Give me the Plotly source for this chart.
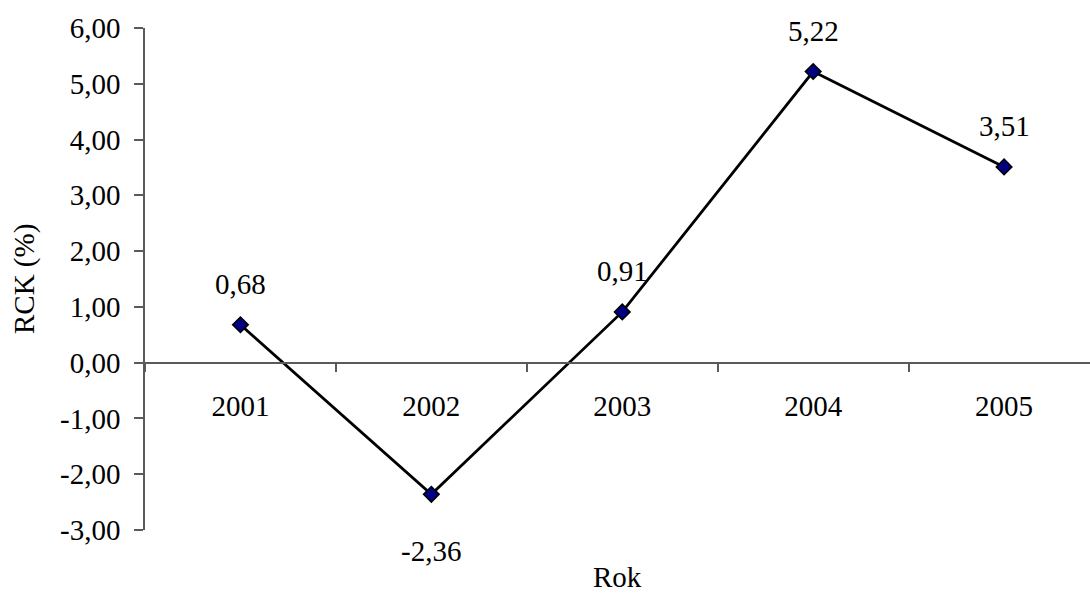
import plotly.graph_objects as go

# RCK by year
years = ["2001", "2002", "2003", "2004", "2005"]
rck = [0.68, -2.36, 0.91, 5.22, 3.51]

y_tick_vals = [-3, -2, -1, 0, 1, 2, 3, 4, 5, 6]
y_tick_text = ["-3,00", "-2,00", "-1,00", "0,00", "1,00", "2,00", "3,00", "4,00", "5,00", "6,00"]

FONT = "Liberation Serif, Times New Roman, serif"
FS = 29
AXIS_COLOR = "#5a5a5a"

y_min, y_max = -3, 6

fig = go.Figure()
fig.add_trace(go.Scatter(
    x=years, y=rck, mode="lines+markers",
    line=dict(color="black", width=2.8),
    marker=dict(symbol="diamond", size=12, color="#000080",
                line=dict(color="black", width=1.5)),
    cliponaxis=False, showlegend=False, hoverinfo="skip",
))

# value labels: above positive points, below negative ones
# (category axis -> position annotations by category index)
for i, v in enumerate(rck):
    fig.add_annotation(
        x=i, y=v, xref="x", yref="y",
        text=f"{v:.2f}".replace(".", ","),
        showarrow=False, yshift=41 if v >= 0 else -57,
        font=dict(family=FONT, size=FS, color="black"),
    )

fig.update_layout(
    width=1090, height=595,
    margin=dict(l=145, r=0, t=28, b=65),
    paper_bgcolor="white", plot_bgcolor="white",
    font=dict(family=FONT, size=FS, color="black"),
    xaxis=dict(
        type="category", range=[-0.5, 4.45],
        anchor="free", position=(0 - y_min) / (y_max - y_min),
        showline=True, linecolor=AXIS_COLOR, linewidth=1.5,
        ticks="outside", tickson="boundaries", ticklen=9,
        tickcolor=AXIS_COLOR, tickwidth=1.5,
        ticklabelstandoff=18,
        showgrid=False, zeroline=False,
    ),
    yaxis=dict(
        range=[y_min, y_max], tickvals=y_tick_vals, ticktext=y_tick_text,
        showline=True, linecolor=AXIS_COLOR, linewidth=1.5,
        ticks="outside", ticklen=9, tickcolor=AXIS_COLOR, tickwidth=1.5,
        ticklabelstandoff=8,
        showgrid=False, zeroline=False,
    ),
)

fig.add_annotation(
    text="Rok", xref="paper", yref="paper", x=0.5, y=-0.058,
    yanchor="top", showarrow=False,
    font=dict(family=FONT, size=FS, color="black"),
)
fig.add_annotation(
    text="RCK (%)", xref="paper", yref="paper", x=-0.128, y=0.5,
    xanchor="center", textangle=-90, showarrow=False,
    font=dict(family=FONT, size=FS, color="black"),
)

fig.write_html("out.html")
